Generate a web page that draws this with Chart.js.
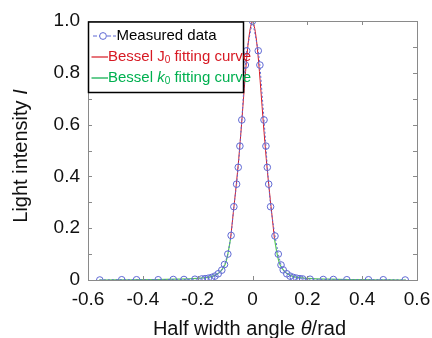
<!DOCTYPE html>
<html>
<head>
<meta charset="utf-8">
<script src="https://cdn.jsdelivr.net/npm/chart.js@4.4.0/dist/chart.umd.min.js"></script>
<style>
  html, body { margin: 0; padding: 0; background: #fff; }
  #wrap { width: 432px; height: 338px; }
</style>
</head>
<body>
<div id="wrap"><canvas id="beamChart" width="432" height="338"></canvas></div>
<script>
// measured points
const measuredX = [
  -0.557, -0.477, -0.423, -0.344, -0.289, -0.25, -0.21, -0.185, -0.173, -0.161,
  -0.149, -0.137, -0.125, -0.112, -0.102, -0.09, -0.078, -0.068, -0.058, -0.052,
  -0.046, -0.039, -0.026, -0.021, 0,
  0.021, 0.027, 0.042, 0.049, 0.054, 0.059, 0.066, 0.082, 0.094, 0.104,
  0.112, 0.125, 0.137, 0.149, 0.161, 0.173, 0.183, 0.21, 0.258, 0.295,
  0.344, 0.423, 0.477, 0.557
];
const measuredY = [
  0, 0.001, 0.001, 0.001, 0.002, 0.002, 0.003, 0.004, 0.005, 0.007,
  0.01, 0.015, 0.024, 0.038, 0.06, 0.1, 0.172, 0.283, 0.37, 0.435,
  0.517, 0.618, 0.83, 0.885, 1.0,
  0.885, 0.83, 0.618, 0.517, 0.435, 0.37, 0.283, 0.17, 0.1, 0.058,
  0.039, 0.024, 0.015, 0.01, 0.007, 0.005, 0.004, 0.003, 0.002, 0.002,
  0.001, 0.001, 0.001, 0
];

// Bessel J0 fit (central part)
const j0X = [-0.08, -0.07, -0.06, -0.05, -0.04, -0.03, -0.02, -0.01, 0,
  0.01, 0.02, 0.03, 0.04, 0.05, 0.06, 0.07, 0.08];
const j0Y = [0.16, 0.26, 0.36, 0.47, 0.6, 0.74, 0.87, 0.96, 1.0,
  0.96, 0.87, 0.74, 0.6, 0.47, 0.36, 0.26, 0.16];

// Bessel k0 fit (both tails, null = gap)
const k0X = [-0.56, -0.45, -0.35, -0.28, -0.22, -0.18, -0.15, -0.13, -0.115, -0.1, -0.09, -0.08,
  0, 0.08, 0.09, 0.1, 0.115, 0.13, 0.15, 0.18, 0.22, 0.28, 0.35, 0.45, 0.56];
const k0Y = [0, 0.001, 0.002, 0.003, 0.005, 0.008, 0.013, 0.022, 0.035, 0.06, 0.1, 0.16,
  null, 0.16, 0.1, 0.06, 0.035, 0.022, 0.013, 0.008, 0.005, 0.003, 0.002, 0.001, 0];

const xTicks = [-0.6, -0.4, -0.2, 0, 0.2, 0.4, 0.6];
const yTicks = [0, 0.1, 0.2, 0.3, 0.4, 0.5, 0.6, 0.7, 0.8, 0.9, 1.0];
const seriesNames = ['Measured data', 'Bessel J', 'Bessel k'];

const FONT = '"Liberation Sans", Arial, sans-serif';
const BLUE = 'rgb(95,105,212)';
const RED = 'rgb(215,25,35)';
const GREEN_LINE = 'rgb(90,200,90)';
const GREEN_TEXT = 'rgb(0,176,80)';

function zip(xs, ys) {
  return xs.map((x, i) => ({ x: x, y: ys[i] }));
}

function fmt(v) {
  const r = Math.round(v * 10) / 10;
  return r === 0 ? '0' : r.toFixed(1);
}

// frame, inward ticks, legend, axis titles
const decorPlugin = {
  id: 'decor',
  afterDraw(chart) {
    const ctx = chart.ctx;
    const a = chart.chartArea;
    const xs = chart.scales.x;
    const ys = chart.scales.y;
    ctx.save();

    ctx.strokeStyle = '#8a8a8a';
    ctx.lineWidth = 1;
    ctx.strokeRect(Math.round(a.left) + 0.5, Math.round(a.top) + 0.5,
      Math.round(a.right - a.left), Math.round(a.bottom - a.top));
    ctx.beginPath();
    xTicks.forEach(t => {
      const px = Math.round(xs.getPixelForValue(t)) + 0.5;
      ctx.moveTo(px, a.bottom); ctx.lineTo(px, a.bottom - 4);
      ctx.moveTo(px, a.top); ctx.lineTo(px, a.top + 4);
    });
    yTicks.forEach(t => {
      const py = Math.round(ys.getPixelForValue(t)) + 0.5;
      ctx.moveTo(a.left, py); ctx.lineTo(a.left + 4, py);
      ctx.moveTo(a.right, py); ctx.lineTo(a.right - 4, py);
    });
    ctx.stroke();

    // legend box
    const bx = 88.5, by = 22, bw = 155, bh = 70.5;
    ctx.fillStyle = '#fff';
    ctx.fillRect(bx, by, bw, bh);
    ctx.strokeStyle = '#000';
    ctx.lineWidth = 1.5;
    ctx.strokeRect(bx, by, bw, bh);

    ctx.textBaseline = 'middle';
    ctx.textAlign = 'left';

    // row 1: measured
    let ry = 36;
    ctx.strokeStyle = BLUE;
    ctx.lineWidth = 1;
    ctx.setLineDash([4, 2]);
    ctx.beginPath();
    ctx.moveTo(93, ry); ctx.lineTo(100, ry);
    ctx.moveTo(107, ry); ctx.lineTo(116, ry);
    ctx.stroke();
    ctx.setLineDash([]);
    ctx.beginPath();
    ctx.arc(103, ry, 3.4, 0, Math.PI * 2);
    ctx.stroke();
    ctx.fillStyle = '#000';
    ctx.font = '15px ' + FONT;
    ctx.fillText(seriesNames[0], 116.5, ry);

    // rows 2 and 3: fits
    const rows = [
      { y: 57, color: RED, line: RED, letter: 'J', italic: false },
      { y: 78, color: GREEN_TEXT, line: 'rgb(0,170,70)', letter: 'k', italic: true }
    ];
    rows.forEach(r => {
      ctx.strokeStyle = r.line;
      ctx.lineWidth = 1.2;
      ctx.beginPath();
      ctx.moveTo(91.5, r.y); ctx.lineTo(108, r.y);
      ctx.stroke();
      ctx.fillStyle = r.color;
      let x = 108;
      ctx.font = '15px ' + FONT;
      ctx.fillText('Bessel ', x, r.y);
      x += ctx.measureText('Bessel ').width;
      ctx.font = (r.italic ? 'italic ' : '') + '15px ' + FONT;
      ctx.fillText(r.letter, x, r.y);
      x += ctx.measureText(r.letter).width;
      ctx.font = '10px ' + FONT;
      ctx.fillText('0', x, r.y + 3);
      x += ctx.measureText('0').width;
      ctx.font = '15px ' + FONT;
      ctx.fillText(' fitting curve', x, r.y);
    });

    // x axis title
    ctx.fillStyle = '#111';
    const cx = (a.left + a.right) / 2 - 3;
    const parts = [['Half width angle ', ''], ['θ', 'italic '], ['/rad', '']];
    let total = 0;
    parts.forEach(p => { ctx.font = p[1] + '20px ' + FONT; total += ctx.measureText(p[0]).width; });
    let x0 = cx - total / 2;
    parts.forEach(p => {
      ctx.font = p[1] + '20px ' + FONT;
      ctx.fillText(p[0], x0, 329);
      x0 += ctx.measureText(p[0]).width;
    });

    // y axis title
    ctx.translate(21, 156);
    ctx.rotate(-Math.PI / 2);
    const yparts = [['Light intensity ', ''], ['I', 'italic ']];
    total = 0;
    yparts.forEach(p => { ctx.font = p[1] + '20px ' + FONT; total += ctx.measureText(p[0]).width; });
    x0 = -total / 2;
    yparts.forEach(p => {
      ctx.font = p[1] + '20px ' + FONT;
      ctx.fillText(p[0], x0, 0);
      x0 += ctx.measureText(p[0]).width;
    });

    ctx.restore();
  }
};

const ctx = document.getElementById('beamChart').getContext('2d');
new Chart(ctx, {
  type: 'scatter',
  data: {
    datasets: [{
      label: seriesNames[0],
      data: zip(measuredX, measuredY),
      showLine: true,
      borderColor: BLUE,
      borderWidth: 1,
      borderDash: [2, 2],
      backgroundColor: 'transparent',
      pointRadius: 3.3,
      pointBorderWidth: 1,
      pointBorderColor: BLUE,
      pointBackgroundColor: 'rgba(0,0,0,0)',
      tension: 0
    }, {
      label: seriesNames[1],
      data: zip(j0X, j0Y),
      showLine: true,
      borderColor: RED,
      borderWidth: 1,
      pointRadius: 0,
      tension: 0.3
    }, {
      label: seriesNames[2],
      data: zip(k0X, k0Y),
      showLine: true,
      spanGaps: false,
      borderColor: GREEN_LINE,
      borderWidth: 1.2,
      pointRadius: 0,
      tension: 0.3
    }]
  },
  options: {
    responsive: false,
    animation: false,
    layout: {
      padding: { top: 21, right: 15, left: 0, bottom: 0 }
    },
    scales: {
      x: {
        type: 'linear',
        min: -0.6,
        max: 0.6,
        afterFit: function(scale) { scale.height = 58; scale.paddingLeft = 0; scale.paddingRight = 0; },
        grid: { display: false, drawTicks: false },
        border: { display: false },
        ticks: {
          stepSize: 0.2,
          padding: 8,
          color: '#111',
          font: { family: FONT, size: 19 },
          maxRotation: 0,
          autoSkip: false,
          callback: function(v) { return fmt(v); }
        }
      },
      y: {
        min: 0,
        max: 1,
        afterFit: function(scale) { scale.width = 88; scale.paddingTop = 0; scale.paddingBottom = 0; },
        grid: { display: false, drawTicks: false },
        border: { display: false },
        ticks: {
          stepSize: 0.1,
          padding: 8,
          color: '#111',
          font: { family: FONT, size: 19 },
          autoSkip: false,
          callback: function(v) {
            return Math.round(v * 10) % 2 === 0 ? fmt(v) : '';
          }
        }
      }
    },
    plugins: {
      legend: { display: false },
      tooltip: { enabled: false }
    }
  },
  plugins: [decorPlugin]
});
</script>
</body>
</html>
